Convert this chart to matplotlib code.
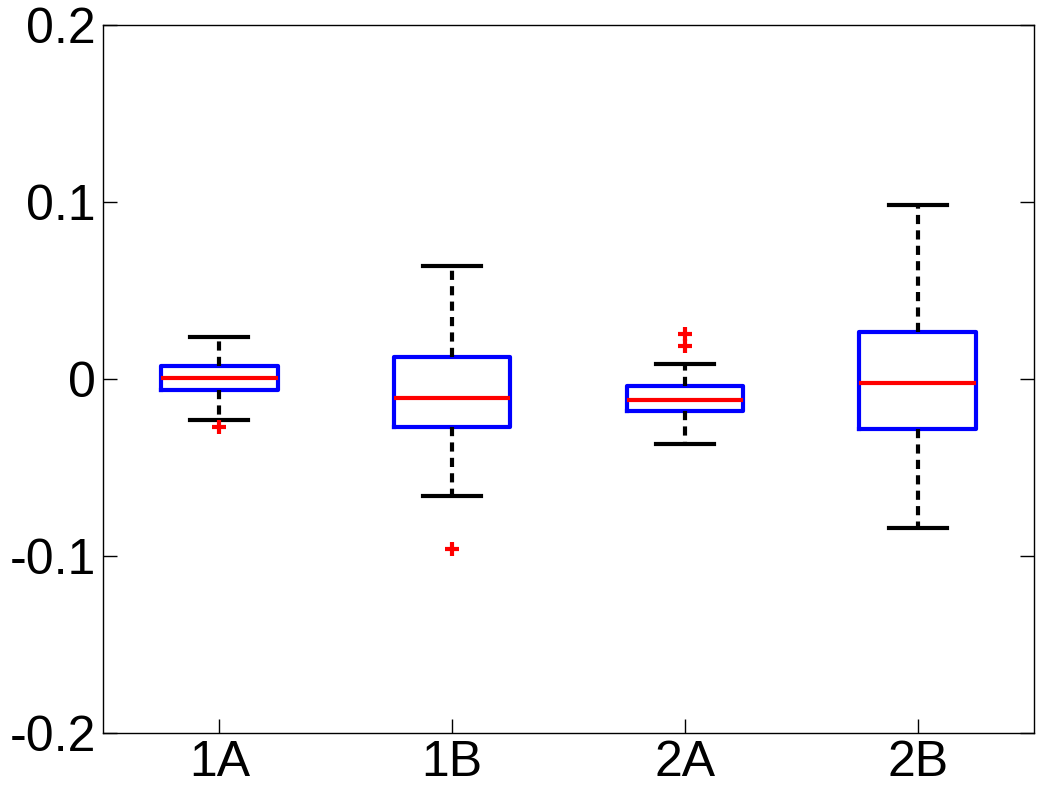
import matplotlib
matplotlib.use("Agg")
import matplotlib.pyplot as plt

labels = ["1A", "1B", "2A", "2B"]
whislo = [-0.023, -0.0659, -0.0365, -0.084]
q1 = [-0.006, -0.0274, -0.0178, -0.028]
med = [0.0008, -0.011, -0.0116, -0.0025]
q3 = [0.0076, 0.0122, -0.0042, 0.0263]
whishi = [0.024, 0.0637, 0.0082, 0.0982]
fliers = [[-0.0274], [-0.0959], [0.0252, 0.0184], []]

plt.rcParams["font.family"] = ["Liberation Sans", "DejaVu Sans"]

fig = plt.figure(figsize=(10.48, 7.98), dpi=100)
ax = fig.add_axes([103 / 1048, 1 - 733 / 798, 931 / 1048, 708 / 798])

stats = []
for i in range(len(labels)):
    stats.append(dict(label=labels[i], whislo=whislo[i], q1=q1[i], med=med[i],
                      q3=q3[i], whishi=whishi[i], fliers=fliers[i]))

ax.bxp(stats, widths=0.5,
       boxprops=dict(color="blue", linewidth=3),
       medianprops=dict(color="red", linewidth=3),
       whiskerprops=dict(color="black", linewidth=3, linestyle=(0, (2.2, 1.5))),
       capprops=dict(color="black", linewidth=3),
       flierprops=dict(marker="+", markeredgecolor="red", markersize=10,
                       markeredgewidth=3, linestyle="none"),
       capwidths=0.25)

ax.set_xlim(0.5, 4.5)
ax.set_ylim(-0.2, 0.2)
ax.set_yticks([-0.2, -0.1, 0, 0.1, 0.2])
ax.set_yticklabels(["-0.2", "-0.1", "0", "0.1", "0.2"])
ax.tick_params(direction="in", length=10, width=1, labelsize=36,
               right=True, top=False, pad=5)
for s in ax.spines.values():
    s.set_linewidth(1)

fig.savefig("out.png", dpi=100)
